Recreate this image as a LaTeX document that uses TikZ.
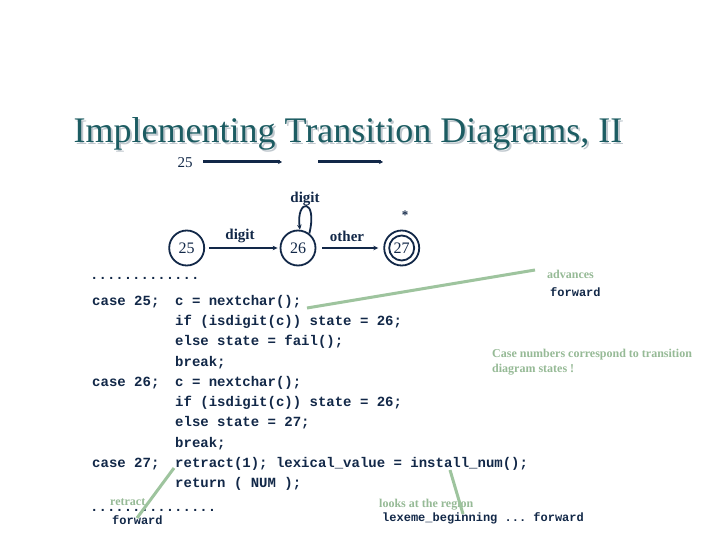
\documentclass[tikz,border=0pt]{standalone}
\usepackage{fontspec}
\setmainfont{Liberation Serif}
\setmonofont{Liberation Mono}
\usetikzlibrary{arrows.meta}
\definecolor{navy}{RGB}{18,40,72}
\definecolor{teal1}{RGB}{28,92,98}
\definecolor{shade}{RGB}{192,200,206}
\definecolor{sage}{RGB}{158,196,158}
\definecolor{sagetxt}{RGB}{150,186,150}
\newcommand{\titletext}{Implementing Transition Diagrams, II}
\tikzset{
 code/.style={anchor=base west, inner sep=0pt, text=navy, font=\ttfamily\bfseries\fontsize{14}{16}\selectfont},
 smallcode/.style={anchor=base west, inner sep=0pt, text=navy, font=\ttfamily\bfseries\fontsize{12}{14}\selectfont},
 note/.style={anchor=base west, inner sep=0pt, text=sagetxt, font=\bfseries\fontsize{12}{14}\selectfont},
 state/.style={circle, draw=navy, line width=1.8pt, minimum size=35pt, inner sep=0pt, text=navy, font=\fontsize{16}{18}\selectfont},
 lbl/.style={anchor=base, inner sep=0pt, text=navy, font=\bfseries\fontsize{15}{17}\selectfont},
 tr/.style={draw=navy, line width=1.8pt, -{Stealth[length=5pt,width=4.5pt]}},
 toparr/.style={draw=navy, line width=3pt, -{Stealth[length=4pt,width=4pt]}},
 pointer/.style={draw=sage, line width=3pt},
}
\begin{document}
\begin{tikzpicture}[x=1pt,y=-1pt]
\useasboundingbox[fill=white] (0,0) rectangle (720,540);
% title with shadow
\node[anchor=base, inner sep=0pt, font=\fontsize{36}{40}\selectfont] (title) at (348,143)
  {\makebox[0pt][l]{\hspace{2pt}\raisebox{-2pt}{\textcolor{shade}{\titletext}}}\textcolor{teal1}{\titletext}};
% top arrows row
\node[inner sep=0pt, text=navy, font=\fontsize{15}{17}\selectfont] (top25) at (185,163) {25};
\coordinate (ta1) at (203,162);
\coordinate (tb1) at (282,162);
\coordinate (ta2) at (318,162);
\coordinate (tb2) at (383,162);
\draw[toparr] (ta1) -- (tb1);
\draw[toparr] (ta2) -- (tb2);
% transition diagram
\node[state] (s25) at (186.7,248) {25};
\node[state] (s26) at (298,248) {26};
\node[state] (s27) at (401.7,248) {27};
\draw[navy, line width=1.8pt] (s27.center) circle (12.5pt);
\draw[tr, shorten <=4pt, shorten >=2pt] (s25) -- (s26);
\draw[tr, shorten <=6pt, shorten >=5pt] (s26) -- (s27);
\draw[tr] (s26.52) .. controls (318,198) and (296,198) .. (s26.84);
\node[lbl] (l1) at (240,240) {digit};
\node[lbl] (l2) at (347,241) {other};
\node[lbl] (l3) at (305,203) {digit};
\node[inner sep=0pt, text=navy, font=\bfseries\fontsize{13}{15}\selectfont] (star) at (405,215) {*};
% code
\node[code] (dots1) at (90,279) {.............};
\node[code] (k25) at (92,305) {case 25;};
\node[code] (c1) at (175,305) {c = nextchar();};
\node[code] (c2) at (175,325.3) {if (isdigit(c)) state = 26;};
\node[code] (c3) at (175,345.6) {else state = fail();};
\node[code] (c4) at (175,366) {break;};
\node[code] (k26) at (92,386.2) {case 26;};
\node[code] (c5) at (175,386.2) {c = nextchar();};
\node[code] (c6) at (175,406.5) {if (isdigit(c)) state = 26;};
\node[code] (c7) at (175,426.8) {else state = 27;};
\node[code] (c8) at (175,447) {break;};
\node[code] (k27) at (92,467.4) {case 27;};
\node[code] (c9) at (175,467.4) {retract(1); lexical\_value = install\_num();};
\node[code] (c10) at (175,487.7) {return ( NUM );};
\node[code] (dots2) at (90,511.5) {...............};
% notes
\node[note] (adv) at (547,278) {advances};
\node[smallcode] (fw1) at (550,296) {forward};
\node[note] (casenote1) at (492,357) {Case numbers correspond to transition};
\node[note] (casenote2) at (492,372) {diagram states !};
\node[note] (retr) at (110,505) {retract};
\node[smallcode] (fw2) at (112,524) {forward};
\node[note] (looks) at (379,507) {looks at the region};
\node[smallcode] (lexb) at (382,521) {lexeme\_beginning ... forward};
% pointers
\coordinate (p1a) at (535,270);
\coordinate (p1b) at (307,308);
\coordinate (p2a) at (174,468);
\coordinate (p2b) at (137,518);
\coordinate (p3a) at (450,470);
\coordinate (p3b) at (463,514);
\draw[pointer] (p1a) -- (p1b);
\draw[pointer] (p2a) -- (p2b);
\draw[pointer] (p3a) -- (p3b);
\end{tikzpicture}
\end{document}
